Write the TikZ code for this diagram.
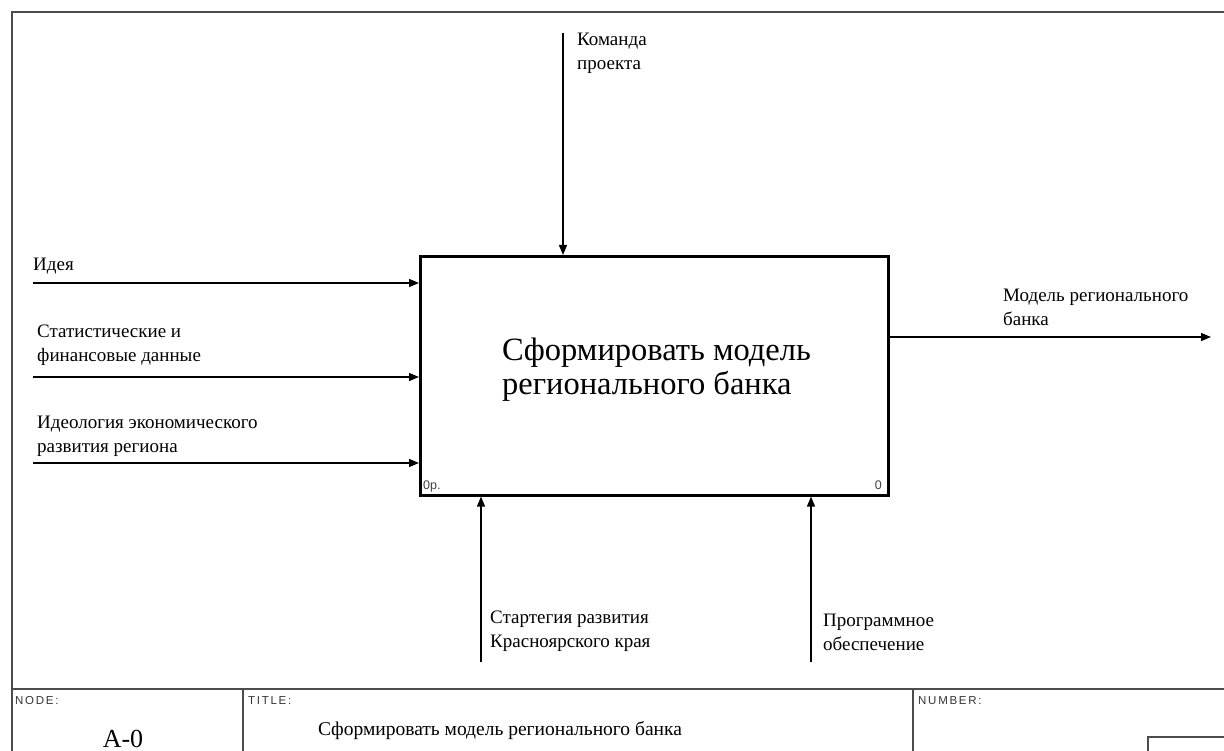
\documentclass[tikz,border=0pt]{standalone}
\usepackage{fontspec}
\setmainfont{Liberation Serif}
\newfontfamily\labsans{Liberation Sans}
\newfontfamily\hdrsans[LetterSpace=15]{Liberation Sans}
\usetikzlibrary{arrows.meta}
\tikzset{
  frameline/.style={draw=black!70, line width=1.8pt},
  flow/.style={draw=black, line width=1.3pt, -{Triangle[length=10pt,width=8pt]}},
  lab/.style={anchor=base west, inner sep=0pt, align=left, font=\fontsize{19}{24}\selectfont},
  hdr/.style={anchor=base west, inner sep=0pt, text=black!80, font=\hdrsans\fontsize{11.5}{13}\selectfont},
  corner/.style={inner sep=0pt, text=black!75, font=\labsans\fontsize{12.5}{14}\selectfont},
  actbox/.style={draw=black, line width=2.6pt}
}
\begin{document}
\begin{tikzpicture}[x=1pt,y=-1pt]
\useasboundingbox (0,0) rectangle (1224,751);
\clip (0,0) rectangle (1224,751);
\fill[white] (0,0) rectangle (1224,751);
% frame
\draw[frameline] (1230,12) -- (12,12) -- (12,760);
\draw[frameline] (12,689) -- (1230,689);
\draw[frameline] (243,689) -- (243,760);
\draw[frameline] (913,689) -- (913,760);
\draw[draw=black!70, line width=1.2pt] (1148,760) -- (1148,737) -- (1230,737);
\node[hdr] (hnode) at (15,704) {NODE:};
\node[hdr] (htitle) at (248,704) {TITLE:};
\node[hdr] (hnum) at (918,704) {NUMBER:};
\node[anchor=base, inner sep=0pt, font=\fontsize{26}{30}\selectfont] (nodeid) at (123,747) {A-0};
\node[anchor=base west, inner sep=0pt, font=\fontsize{19.5}{24}\selectfont] (ttext) at (318,735) {Сформировать модель регионального банка};
% activity box
\node[actbox, minimum width=468pt, minimum height=239pt, anchor=north west, inner sep=0pt] (act) at (419,255) {};
\node[anchor=base west, inner sep=0pt, align=left, font=\fontsize{32.5}{33}\selectfont] (acttext) at (502,394) {Сформировать модель\\регионального банка};
\node[corner, anchor=base west] (cnum) at (423,489) {0р.};
\node[corner, anchor=base east] (cnum2) at (882,489) {0};
% connector end points
\coordinate (i1) at (33,283);
\coordinate (i2) at (33,377);
\coordinate (i3) at (33,463);
\coordinate (c1) at (563,33);
\coordinate (o1) at (1211,337);
\coordinate (m1) at (481,662);
\coordinate (m2) at (811,662);
% inputs
\draw[flow] (i1) -- (act.west |- i1);
\draw[flow] (i2) -- (act.west |- i2);
\draw[flow] (i3) -- (act.west |- i3);
% control
\draw[flow] (c1) -- (act.north -| c1);
% output
\draw[flow] (act.east |- o1) -- (o1);
% mechanisms
\draw[flow] (m1) -- (act.south -| m1);
\draw[flow] (m2) -- (act.south -| m2);
% labels (anchor = baseline of last line)
\node[lab] (li1) at (33,271) {Идея};
\node[lab] (li2) at (37,362) {Статистические и\\финансовые данные};
\node[lab] (li3) at (37,452) {Идеология экономического\\развития региона};
\node[lab] (lc1) at (577,70) {Команда\\проекта};
\node[lab] (lo1) at (1003,326) {Модель регионального\\банка};
\node[lab] (lm1) at (490,647) {Стартегия развития\\Красноярского края};
\node[lab] (lm2) at (823,650) {Программное\\обеспечение};
\end{tikzpicture}
\end{document}
